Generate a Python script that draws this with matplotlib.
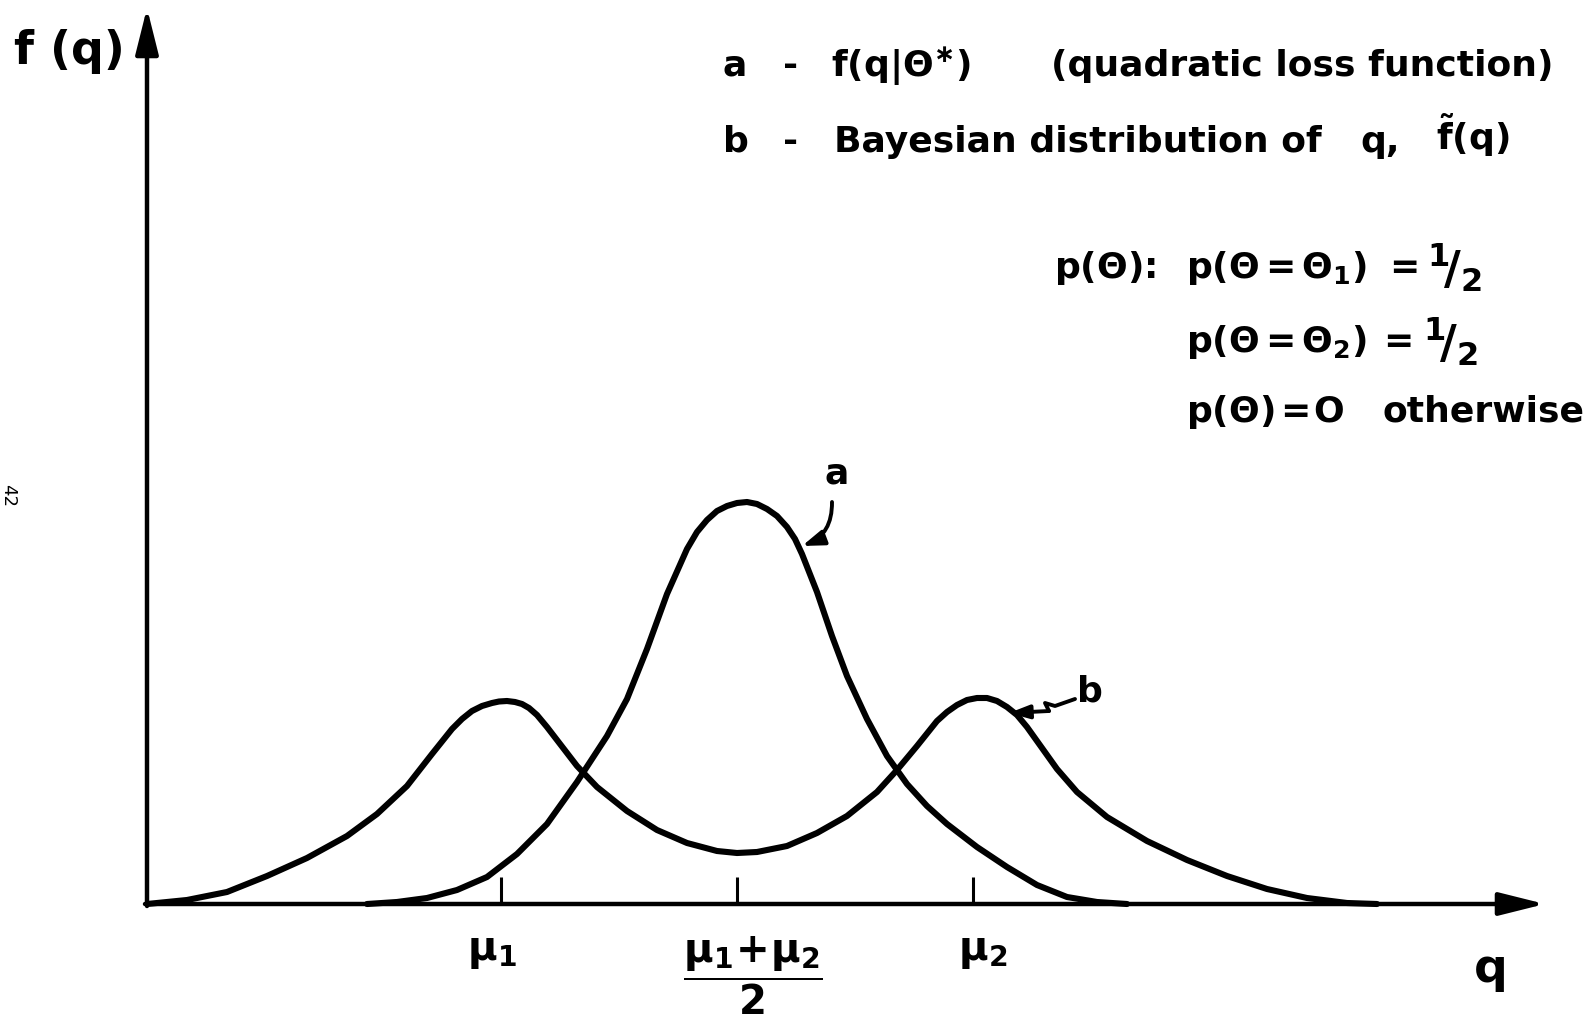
import numpy as np
import matplotlib
matplotlib.use("Agg")
import matplotlib.pyplot as plt

# -------------------------------
# Curve data (q, f)
# -------------------------------
# a : f(q|theta*) under quadratic loss, single hump between the two means
q_a = [2.20, 2.50, 2.80, 3.10, 3.40, 3.70, 4.00, 4.30, 4.60, 4.80, 5.00, 5.20,
       5.40, 5.50, 5.60, 5.70, 5.80, 5.90, 6.00, 6.10, 6.20, 6.30, 6.40, 6.48,
       6.55, 6.70, 6.85, 7.00, 7.20, 7.40, 7.60, 7.80, 8.00, 8.30, 8.60, 8.90,
       9.20, 9.50, 9.80]
f_a = [0.00, 0.02, 0.06, 0.14, 0.27, 0.50, 0.80, 1.22, 1.68, 2.05, 2.55, 3.10,
       3.55, 3.72, 3.84, 3.93, 3.98, 4.01, 4.02, 4.00, 3.95, 3.88, 3.77, 3.65,
       3.50, 3.12, 2.68, 2.28, 1.85, 1.48, 1.20, 0.98, 0.80, 0.57, 0.37, 0.19,
       0.07, 0.02, 0.00]

# b : Bayesian (mixture) distribution of q, two humps at mu1 and mu2
q_b = [0.00, 0.40, 0.80, 1.20, 1.60, 2.00, 2.30, 2.60, 2.85, 3.05, 3.15, 3.25,
       3.35, 3.45, 3.52, 3.60, 3.68, 3.75, 3.82, 3.90, 4.00, 4.10, 4.30, 4.50,
       4.80, 5.10, 5.40, 5.70, 5.90, 6.10, 6.40, 6.70, 7.00, 7.30, 7.50, 7.70,
       7.90, 8.00, 8.10, 8.20, 8.30, 8.40, 8.50, 8.60, 8.70, 8.80, 8.90, 9.10,
       9.30, 9.60, 10.00, 10.40, 10.80, 11.20, 11.60, 12.00, 12.30]
f_b = [0.00, 0.04, 0.12, 0.28, 0.46, 0.68, 0.90, 1.18, 1.50, 1.75, 1.85, 1.93,
       1.98, 2.01, 2.025, 2.03, 2.02, 2.00, 1.96, 1.89, 1.77, 1.64, 1.38, 1.17,
       0.93, 0.74, 0.61, 0.53, 0.51, 0.52, 0.58, 0.71, 0.88, 1.12, 1.34, 1.58,
       1.83, 1.92, 1.99, 2.04, 2.06, 2.06, 2.03, 1.97, 1.89, 1.77, 1.63, 1.35,
       1.12, 0.87, 0.63, 0.44, 0.28, 0.15, 0.06, 0.01, 0.00]

mu1, mu2 = 3.54, 8.26
tick_pos = [mu1, (mu1 + mu2) / 2, mu2]
tick_labels = [r"$\mu_1$", r"$\dfrac{\mu_1\!+\!\mu_2}{2}$", r"$\mu_2$"]

# (x, dy, text, size) pieces of the two key lines and the prior block
half = r"$^1\!/_2$"
key_a = [(5.76, 0, "a", 26), (6.36, 0, "-", 26), (6.84, 0, r"f(q|$\Theta^{\ast}$)", 26),
         (9.04, 0, "(quadratic loss function)", 26)]
key_b = [(5.76, 0, "b", 26), (6.36, 0, "-", 26), (6.87, 0, "Bayesian distribution of", 26),
         (12.13, 0, "q,", 26), (12.89, 0.07, r"$\tilde{f}$(q)", 26)]
prior_1 = [(9.07, 0, r"p($\Theta$):", 26), (10.39, 0, r"p($\Theta\,$=$\,\Theta_1$)", 26),
           (12.42, 0, "=", 26), (12.80, 0, half, 33)]
prior_2 = [(10.39, 0, r"p($\Theta\,$=$\,\Theta_2$)", 26), (12.36, 0, "=", 26),
           (12.76, 0, half, 33)]
prior_3 = [(10.39, 0, r"p($\Theta$)", 26), (11.33, 0, "=", 26), (11.66, 0, "O", 26),
           (12.36, 0, "otherwise", 26)]

# -------------------------------
# Figure
# -------------------------------
plt.rcParams["font.family"] = "DejaVu Sans"
plt.rcParams["font.weight"] = "bold"
plt.rcParams["mathtext.default"] = "regular"

fig = plt.figure(figsize=(15.85, 10.19), dpi=100)
ax = fig.add_axes([0, 0, 1, 1])
ax.set_xlim(-1.47, 14.38)
ax.set_ylim(-1.15, 9.04)
ax.axis("off")

lw = 4.4
ax.plot(q_a, f_a, color="black", lw=lw, solid_joinstyle="round", solid_capstyle="round")
ax.plot(q_b, f_b, color="black", lw=lw, solid_joinstyle="round", solid_capstyle="round")

# axes with arrow heads
arrow = dict(arrowstyle="-|>,head_length=2.8,head_width=0.7", color="black", lw=3.2,
             shrinkA=0, shrinkB=0)
ax.annotate("", xy=(13.98, 0), xytext=(-0.02, 0), arrowprops=arrow)
ax.annotate("", xy=(0, 8.96), xytext=(0, -0.02), arrowprops=arrow)

# ticks on the q axis
ax.vlines(tick_pos, 0, 0.27, color="black", lw=2.2)
ax.text(3.45, -0.47, tick_labels[0], fontsize=29, ha="center", va="center")
ax.text(6.06, -0.72, tick_labels[1], fontsize=29, ha="center", va="center")
ax.text(8.36, -0.47, tick_labels[2], fontsize=29, ha="center", va="center")

ax.text(13.44, -0.66, "q", fontsize=34, ha="center", va="center")
ax.text(-1.33, 8.53, "f (q)", fontsize=33, ha="left", va="center")

# key and prior text
for y, pieces in [(8.38, key_a), (7.62, key_b), (6.36, prior_1),
                  (5.62, prior_2), (4.92, prior_3)]:
    for x, dy, s, size in pieces:
        ax.text(x, y + dy, s, fontsize=size, ha="left", va="center")

# curve labels
ax.text(6.90, 4.31, "a", fontsize=26, ha="center", va="center")
ax.annotate("", xy=(6.55, 3.58), xytext=(6.85, 4.02),
            arrowprops=dict(arrowstyle="-|>,head_length=1.3,head_width=0.45", color="black",
                            lw=2.8, connectionstyle="arc3,rad=-0.35", shrinkA=0, shrinkB=0))
ax.text(9.43, 2.13, "b", fontsize=26, ha="center", va="center")
ax.plot([9.28, 9.08, 8.98, 9.02], [2.05, 1.98, 2.01, 1.93], color="black", lw=2.8,
        solid_joinstyle="round", solid_capstyle="round")
ax.annotate("", xy=(8.62, 1.91), xytext=(9.02, 1.93),
            arrowprops=dict(arrowstyle="-|>,head_length=1.2,head_width=0.4", color="black",
                            lw=2.8, shrinkA=0, shrinkB=0))

# page number in the margin
ax.text(-1.39, 4.09, "42", fontsize=13, fontweight="normal", rotation=-90,
        ha="center", va="center")

fig.savefig("out.png", dpi=100)
